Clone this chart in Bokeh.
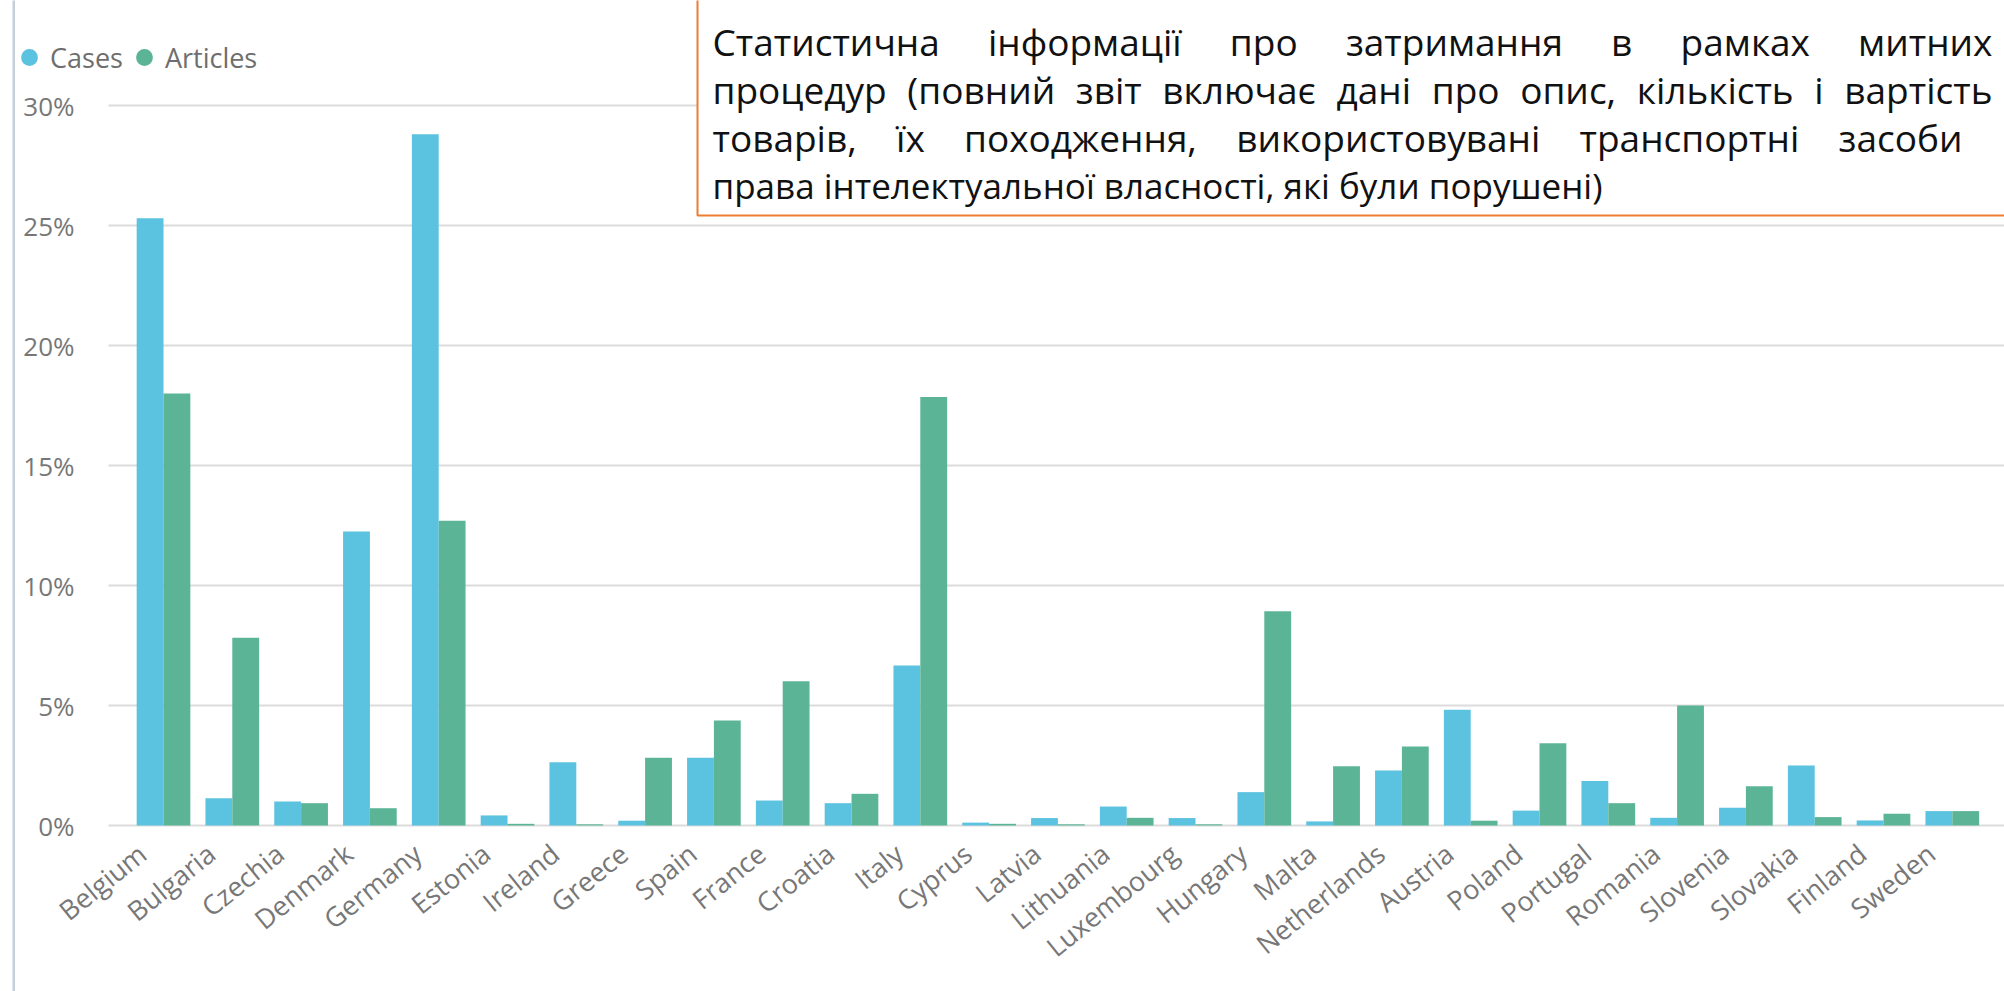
import glob
import subprocess

from bokeh.plotting import figure
from bokeh.models import (Range1d, FixedTicker, BoxAnnotation, Label, Legend,
                          LegendItem, ColumnDataSource)
from bokeh.transform import dodge
from bokeh.embed import file_html
from bokeh.resources import INLINE

# ---------------- data ----------------
countries = ["Belgium", "Bulgaria", "Czechia", "Denmark", "Germany", "Estonia",
             "Ireland", "Greece", "Spain", "France", "Croatia", "Italy", "Cyprus",
             "Latvia", "Lithuania", "Luxembourg", "Hungary", "Malta", "Netherlands",
             "Austria", "Poland", "Portugal", "Romania", "Slovenia", "Slovakia",
             "Finland", "Sweden"]
cases = [25.3, 1.14, 1.0, 12.25, 28.8, 0.42, 2.64, 0.2, 2.82, 1.04, 0.93, 6.67, 0.12,
         0.31, 0.79, 0.31, 1.39, 0.17, 2.29, 4.82, 0.62, 1.85, 0.32, 0.74, 2.5,
         0.21, 0.6]
articles = [18.0, 7.82, 0.93, 0.72, 12.7, 0.07, 0.05, 2.82, 4.37, 6.01, 1.32, 17.85, 0.07,
            0.05, 0.32, 0.05, 8.93, 2.47, 3.29, 0.2, 3.43, 0.93, 5.0, 1.64, 0.35,
            0.49, 0.6]
y_ticks = [0, 5, 10, 15, 20, 25, 30]
y_tick_labels = ["0%", "5%", "10%", "15%", "20%", "25%", "30%"]
series_names = ["Cases", "Articles"]
line1_words = ["Статистична", "інформації", "про", "затримання", "в", "рамках", "митних"]
line2_words = ["процедур", "(повний", "звіт", "включає", "дані", "про", "опис,",
               "кількість", "і", "вартість"]
line3_words = ["товарів,", "їх", "походження,", "використовувані", "транспортні", "засоби"]
line4_text = "права  інтелектуальної власності, які були порушені)"

# ---------------- layout (page pixels, canvas at page 0,0) ----------------
W, H = 2004, 991
STEP = 68.8          # px per category
PX_PER_PCT = 24.0
ZERO_Y = 825         # page y of the 0% line
FIRST_X = 163        # page x of the first category centre
x_start = -FIRST_X / STEP
x_end = x_start + W / STEP
y_end = ZERO_Y / PX_PER_PCT
y_start = -(H - ZERO_Y) / PX_PER_PCT

C_CASES = "#5BC2DF"
C_ART = "#5CB496"
GREY = "#777777"
ORANGE = "#ED7D31"
FONT = "Open Sans"


def dx(page_x):
    return x_start + page_x / STEP


def dy(page_y):
    return (ZERO_Y - page_y) / PX_PER_PCT


# text measuring (for justified lines in the note box)
def _font_path():
    try:
        out = subprocess.run(["fc-match", "-f", "%{file}", FONT],
                             capture_output=True, text=True, timeout=5).stdout.strip()
        if out:
            return out
    except Exception:
        pass
    c = glob.glob("/usr/share/fonts/**/*OpenSans*.ttf", recursive=True)
    return c[0] if c else None


_FP = _font_path()
_cache = {}


def text_width(txt, size):
    try:
        from PIL import ImageFont
        if size not in _cache:
            _cache[size] = ImageFont.truetype(_FP, size)
        return _cache[size].getlength(txt)
    except Exception:
        return 0.56 * size * len(txt)


p = figure(width=W, height=H, output_backend="svg", toolbar_location=None,
           x_range=Range1d(x_start, x_end), y_range=Range1d(y_start, y_end),
           min_border_left=0, min_border_right=0, min_border_top=0,
           min_border_bottom=0)
p.outline_line_color = None
p.background_fill_color = "white"
p.border_fill_color = "white"

src = ColumnDataSource(dict(x=list(range(len(countries))), country=countries,
                            cases=cases, articles=articles))
p.vbar(x=dodge("x", -0.195), top="cases", width=0.39, source=src,
       fill_color=C_CASES, line_color=None)
p.vbar(x=dodge("x", 0.195), top="articles", width=0.39, source=src,
       fill_color=C_ART, line_color=None)

# grid
p.xgrid.grid_line_color = None
p.ygrid.grid_line_color = "#dcdcdc"
p.ygrid.grid_line_width = 2
p.ygrid.ticker = FixedTicker(ticks=y_ticks)
# grid lines start right of the y labels
p.add_layout(BoxAnnotation(left=x_start - 1, right=dx(108), bottom=y_start - 1,
                           top=y_end + 1, fill_color="white", fill_alpha=1,
                           line_color=None, level="underlay"))

# y axis
p.yaxis.fixed_location = dx(108)
p.yaxis.ticker = FixedTicker(ticks=y_ticks)
p.yaxis.major_label_overrides = dict(zip(y_ticks, y_tick_labels))
p.yaxis.axis_line_color = None
p.yaxis.major_tick_line_color = None
p.yaxis.minor_tick_line_color = None
p.yaxis.major_label_standoff = 28
p.yaxis.major_label_text_font = FONT
p.yaxis.major_label_text_font_size = "26px"
p.yaxis.major_label_text_color = GREY

# x axis
tick_pos = [round(i - 0.31, 2) for i in range(len(countries))]
p.xaxis.fixed_location = 0
p.xaxis.ticker = FixedTicker(ticks=tick_pos)
p.xaxis.major_label_overrides = dict(zip(tick_pos, countries))
p.xaxis.axis_line_color = None
p.xaxis.major_tick_line_color = None
p.xaxis.minor_tick_line_color = None
p.xaxis.major_label_orientation = 0.68
p.xaxis.major_label_standoff = 18
p.xaxis.major_label_text_font = FONT
p.xaxis.major_label_text_font_size = "27px"
p.xaxis.major_label_text_color = GREY

# legend with circle markers (size-0 scatter used only as legend glyph)
lc = p.scatter(x=dodge("x", -0.195), y="cases", source=src, marker="circle", size=0,
               fill_color=C_CASES, line_color=None)
la = p.scatter(x=dodge("x", 0.195), y="articles", source=src, marker="circle", size=0,
               fill_color=C_ART, line_color=None)
legend = Legend(items=[LegendItem(label=series_names[0], renderers=[lc]),
                       LegendItem(label=series_names[1], renderers=[la])],
                location=(8, 913), orientation="horizontal",
                glyph_width=42, glyph_height=42, label_standoff=-10, spacing=-17,
                padding=0, margin=0, border_line_color=None,
                background_fill_alpha=0,
                label_text_font=FONT, label_text_font_size="27px",
                label_text_color="#6e6e6e")
p.add_layout(legend)

# left border of the visual
p.add_layout(BoxAnnotation(left=dx(12), right=dx(14.5), bottom=y_start - 1,
                           top=y_end + 1, fill_color="#c5cfdb", fill_alpha=1,
                           line_color=None))

# note box
p.add_layout(BoxAnnotation(left=dx(697), right=x_end + 5, bottom=dy(215),
                           top=y_end + 5, fill_color="white", fill_alpha=1.0,
                           line_color=ORANGE, line_alpha=1.0, line_width=2))

TEXT_SIZE = 37


def put(txt, px, py, size=TEXT_SIZE, align="left"):
    p.add_layout(Label(x=dx(px), y=dy(py), text=txt, text_font=FONT,
                       text_font_size=f"{size}px", text_color="#111111",
                       text_baseline="alphabetic", text_align=align))


def justify(words, left, right, baseline, size=TEXT_SIZE):
    widths = [text_width(w, size) for w in words]
    gap = (right - left - sum(widths)) / (len(words) - 1)
    gap = max(gap, 0.25 * size)
    x = left
    for w, wd in zip(words, widths):
        put(w, x, baseline, size)
        x += wd + gap


justify(line1_words, 712, 1992, 41)
justify(line2_words, 712, 1992, 89)
justify(line3_words, 712, 1962, 137)
put(line4_text, 712, 185, 35)

open("out.html", "w").write(file_html(p, INLINE))
